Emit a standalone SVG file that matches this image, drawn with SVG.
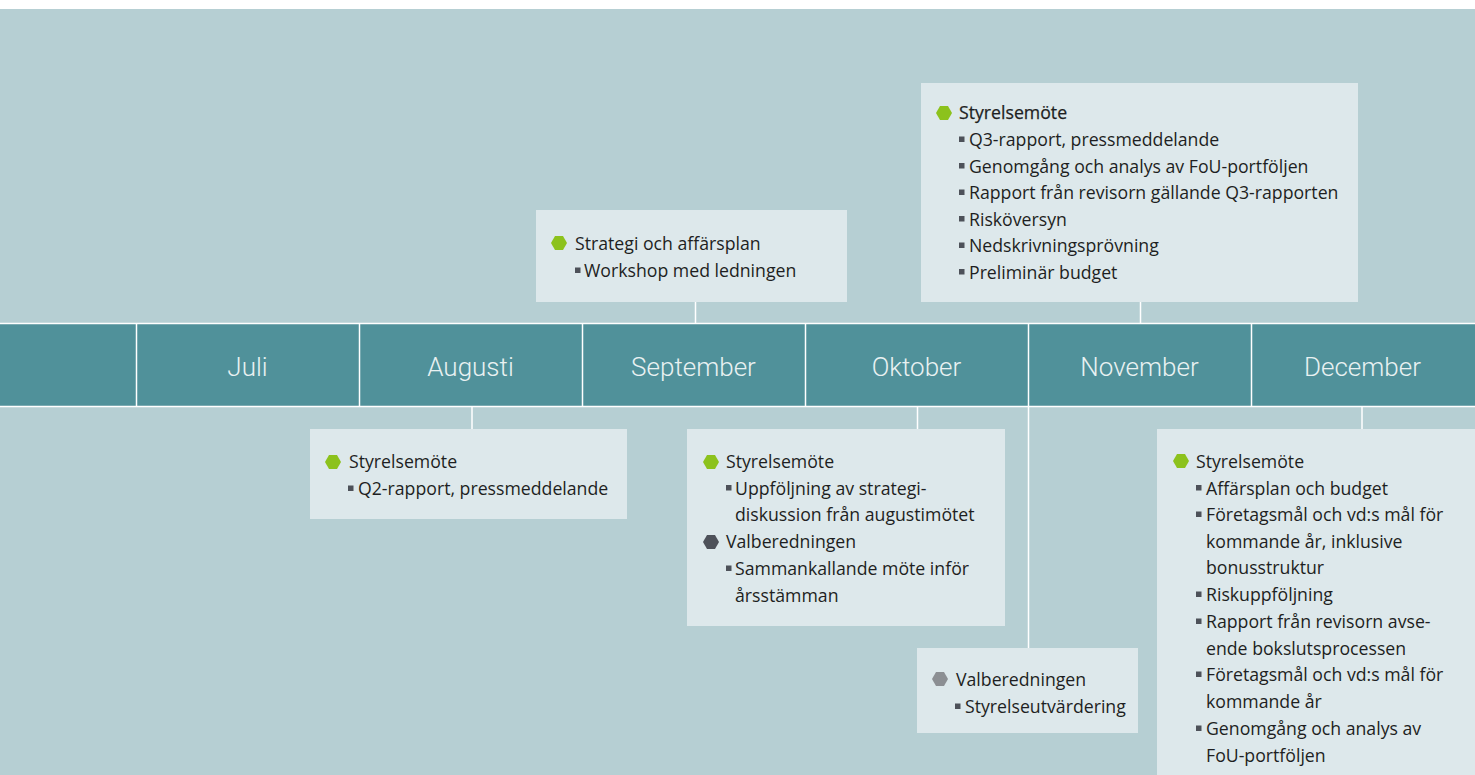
<svg xmlns="http://www.w3.org/2000/svg" xmlns:xlink="http://www.w3.org/1999/xlink" width="1475" height="775" viewBox="0 0 1475 775">
<style>
.box{fill:#dde8eb}
.t{font-family:"Open Sans","Noto Sans","Liberation Sans",sans-serif;font-size:17.7px;fill:#1e1f22}
.hb{font-weight:500;stroke:#1e1f22;stroke-width:0.25}
.m{font-family:Roboto,"Liberation Sans",sans-serif;font-weight:300;font-size:26px;fill:#e9f1f2;text-anchor:middle}
.sq{fill:#4d5159}
.ln{stroke:#ffffff;stroke-width:1.5;fill:none}
</style>
<defs>
<path id="hex" d="M-8,0 L-4,-7 L4,-7 L8,0 L4,7 L-4,7 Z"/>
<rect id="sq" x="0" y="-9.5" width="5.5" height="5.5"/>
</defs>
<rect x="0" y="0" width="1475" height="775" fill="#ffffff"/>
<rect x="0" y="9" width="1475" height="766" fill="#b6cfd3"/>

<g id="timeline">
<rect x="0" y="323" width="1475" height="84" fill="#50919a"/>
<line class="ln" x1="0" y1="323.5" x2="1475" y2="323.5"/>
<line class="ln" x1="0" y1="406.5" x2="1475" y2="406.5"/>
<line class="ln" x1="136.5" y1="323" x2="136.5" y2="407"/>
<line class="ln" x1="359.5" y1="323" x2="359.5" y2="407"/>
<line class="ln" x1="582.5" y1="323" x2="582.5" y2="407"/>
<line class="ln" x1="805.5" y1="323" x2="805.5" y2="407"/>
<line class="ln" x1="1028.5" y1="323" x2="1028.5" y2="407"/>
<line class="ln" x1="1251.5" y1="323" x2="1251.5" y2="407"/>
<text class="m" x="247.5" y="376">Juli</text>
<text class="m" x="470.5" y="376">Augusti</text>
<text class="m" x="693.5" y="376">September</text>
<text class="m" x="916.5" y="376">Oktober</text>
<text class="m" x="1139.5" y="376">November</text>
<text class="m" x="1362.5" y="376">December</text>
</g>

<g id="connectors">
<line class="ln" x1="695.5" y1="302" x2="695.5" y2="323"/>
<line class="ln" x1="1140.5" y1="302" x2="1140.5" y2="323"/>
<line class="ln" x1="472" y1="407" x2="472" y2="429"/>
<line class="ln" x1="917.5" y1="407" x2="917.5" y2="429"/>
<line class="ln" x1="1028.5" y1="407" x2="1028.5" y2="648"/>
<line class="ln" x1="1362" y1="407" x2="1362" y2="429"/>
</g>

<g id="sept">
<rect class="box" x="536" y="210" width="311" height="92"/>
<use xlink:href="#hex" x="559" y="243" fill="#8cc21c"/>
<text class="t" x="575" y="250">Strategi och affärsplan</text>
<use xlink:href="#sq" class="sq" x="575" y="277"/>
<text class="t" x="584" y="277">Workshop med ledningen</text>
</g>

<g id="nov-top">
<rect class="box" x="921" y="83" width="437" height="219"/>
<use xlink:href="#hex" x="944" y="113" fill="#8cc21c"/>
<text class="t hb" x="959" y="119">Styrelsemöte</text>
<use xlink:href="#sq" class="sq" x="959" y="146"/>
<text class="t" x="969" y="146">Q3-rapport, pressmeddelande</text>
<use xlink:href="#sq" class="sq" x="959" y="172.5"/>
<text class="t" x="969" y="172.5">Genomgång och analys av FoU-portföljen</text>
<use xlink:href="#sq" class="sq" x="959" y="199"/>
<text class="t" x="969" y="199">Rapport från revisorn gällande Q3-rapporten</text>
<use xlink:href="#sq" class="sq" x="959" y="225.5"/>
<text class="t" x="969" y="225.5">Risköversyn</text>
<use xlink:href="#sq" class="sq" x="959" y="252"/>
<text class="t" x="969" y="252">Nedskrivningsprövning</text>
<use xlink:href="#sq" class="sq" x="959" y="278.5"/>
<text class="t" x="969" y="278.5">Preliminär budget</text>
</g>

<g id="aug">
<rect class="box" x="310" y="429" width="317" height="90"/>
<use xlink:href="#hex" x="333" y="462" fill="#8cc21c"/>
<text class="t" x="349" y="468">Styrelsemöte</text>
<use xlink:href="#sq" class="sq" x="348" y="495"/>
<text class="t" x="358" y="495">Q2-rapport, pressmeddelande</text>
</g>

<g id="okt">
<rect class="box" x="687" y="429" width="318" height="197"/>
<use xlink:href="#hex" x="711" y="462" fill="#8cc21c"/>
<text class="t" x="726" y="468">Styrelsemöte</text>
<use xlink:href="#sq" class="sq" x="726" y="494.5"/>
<text class="t" x="735" y="494.5">Uppföljning av strategi-</text>
<text class="t" x="735" y="521">diskussion från augustimötet</text>
<use xlink:href="#hex" x="711" y="542" fill="#4d5159"/>
<text class="t" x="726" y="548">Valberedningen</text>
<use xlink:href="#sq" class="sq" x="726" y="575"/>
<text class="t" x="735" y="575">Sammankallande möte inför</text>
<text class="t" x="735" y="601.5">årsstämman</text>
</g>

<g id="nov-bottom">
<rect class="box" x="917" y="648" width="221" height="85"/>
<use xlink:href="#hex" x="940" y="679" fill="#8c8f93"/>
<text class="t" x="956" y="686">Valberedningen</text>
<use xlink:href="#sq" class="sq" x="955" y="713"/>
<text class="t" x="965" y="713">Styrelseutvärdering</text>
</g>

<g id="dec">
<rect class="box" x="1157" y="429" width="318" height="346"/>
<use xlink:href="#hex" x="1181" y="461" fill="#8cc21c"/>
<text class="t" x="1196" y="468">Styrelsemöte</text>
<use xlink:href="#sq" class="sq" x="1196" y="494.5"/>
<text class="t" x="1206" y="494.5">Affärsplan och budget</text>
<use xlink:href="#sq" class="sq" x="1196" y="521"/>
<text class="t" x="1206" y="521">Företagsmål och vd:s mål för</text>
<text class="t" x="1206" y="547.5">kommande år, inklusive</text>
<text class="t" x="1206" y="574">bonusstruktur</text>
<use xlink:href="#sq" class="sq" x="1196" y="601"/>
<text class="t" x="1206" y="601">Riskuppföljning</text>
<use xlink:href="#sq" class="sq" x="1196" y="628"/>
<text class="t" x="1206" y="628">Rapport från revisorn avse-</text>
<text class="t" x="1206" y="654.5">ende bokslutsprocessen</text>
<use xlink:href="#sq" class="sq" x="1196" y="681"/>
<text class="t" x="1206" y="681">Företagsmål och vd:s mål för</text>
<text class="t" x="1206" y="708">kommande år</text>
<use xlink:href="#sq" class="sq" x="1196" y="735"/>
<text class="t" x="1206" y="735">Genomgång och analys av</text>
<text class="t" x="1206" y="761.5">FoU-portföljen</text>
</g>
</svg>
